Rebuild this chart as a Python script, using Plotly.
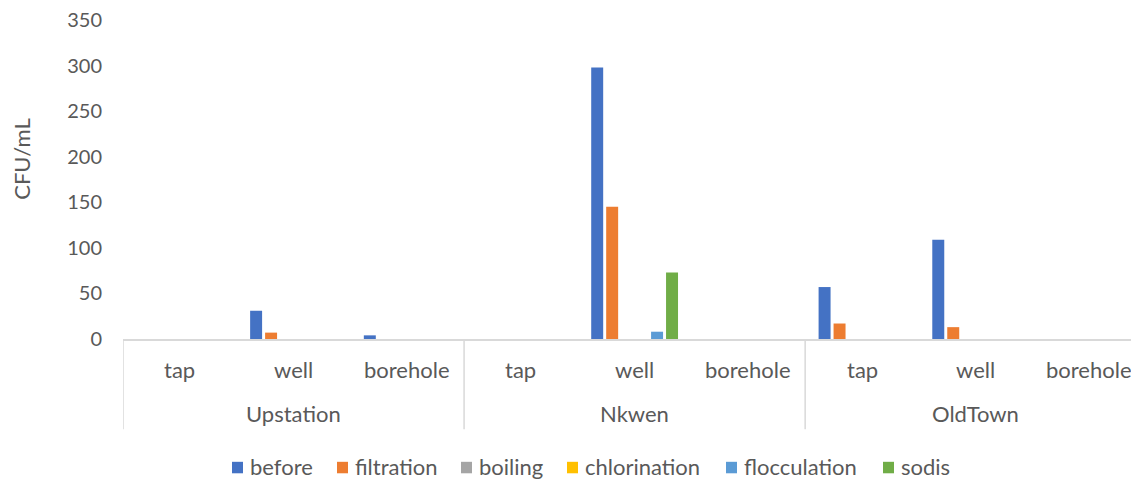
import plotly.graph_objects as go

# Sites and water sources (two-level category axis)
sites = ["Upstation", "Nkwen", "OldTown"]
sources = ["tap", "well", "borehole"]

# CFU/mL per treatment, ordered site by site: tap, well, borehole
before = [0, 31, 4, 0, 298, 0, 57, 109, 0]
filtration = [0, 7, 0, 0, 145, 0, 17, 13, 0]
boiling = [0, 0, 0, 0, 0, 0, 0, 0, 0]
chlorination = [0, 0, 0, 0, 0, 0, 0, 0, 0]
flocculation = [0, 0, 0, 0, 8, 0, 0, 0, 0]
sodis = [0, 0, 0, 0, 73, 0, 0, 0, 0]

y_ticks = [0, 50, 100, 150, 200, 250, 300, 350]

series = [
    ("before", before, "#4472C4"),
    ("filtration", filtration, "#ED7D31"),
    ("boiling", boiling, "#A5A5A5"),
    ("chlorination", chlorination, "#FFC000"),
    ("flocculation", flocculation, "#5B9BD5"),
    ("sodis", sodis, "#70AD47"),
]

positions = list(range(len(sites) * len(sources)))
sub_labels = sources * len(sites)

FONT = "Lato, 'Open Sans', sans-serif"
TEXT = "#595959"
LINE = "#D9D9D9"

W, H = 1131, 479
top, bottom, left = 20, 339.5, 123
plot_w, plot_h = W - left, bottom - top


def px(pix):
    # pixel column -> paper x
    return (pix - left) / plot_w


def py(pix):
    # pixel row -> paper y
    return (bottom - pix) / plot_h


fig = go.Figure()
for name, vals, color in series:
    fig.add_trace(go.Bar(
        x=positions, y=vals, name=name,
        marker=dict(color=color, line=dict(width=0)),
        showlegend=False,
    ))

# group dividers below the axis
for xv in [-0.5, 2.5, 5.5, 8.5]:
    fig.add_shape(type="line", xref="x", yref="paper",
                  x0=xv, x1=xv, y0=0, y1=py(430),
                  line=dict(color=LINE, width=1.5))

# water-source labels (inner category level)
for xv, lab in zip(positions, sub_labels):
    fig.add_annotation(x=xv, y=py(370), xref="x", yref="paper",
                       text=lab, showarrow=False,
                       xanchor="center", yanchor="middle",
                       font=dict(family=FONT, size=22, color=TEXT))

# site labels (outer category level)
for i, site in enumerate(sites):
    fig.add_annotation(x=i * 3 + 1, y=py(414), xref="x", yref="paper",
                       text=site, showarrow=False,
                       xanchor="center", yanchor="middle",
                       font=dict(family=FONT, size=22, color=TEXT))

# y-axis title
fig.add_annotation(x=px(22), y=py(159), xref="paper", yref="paper",
                   text="CFU/mL", textangle=-90, showarrow=False,
                   xanchor="center", yanchor="middle",
                   font=dict(family=FONT, size=22, color=TEXT))

# legend row: square key + label for each series
legend_left = [232, 337, 461, 567, 726, 883]
for (name, _, color), x0 in zip(series, legend_left):
    fig.add_shape(type="rect", xref="paper", yref="paper",
                  x0=px(x0), x1=px(x0 + 11), y0=py(462.5), y1=py(474),
                  fillcolor=color, line=dict(width=0))
    fig.add_annotation(x=px(x0 + 16), y=py(467.5), xref="paper", yref="paper",
                       text=name, showarrow=False,
                       xanchor="left", yanchor="middle",
                       font=dict(family=FONT, size=22, color=TEXT))

fig.update_layout(
    width=W, height=H,
    margin=dict(l=left, r=0, t=top, b=H - bottom, pad=0),
    barmode="group", bargap=0.21, bargroupgap=0.2,
    plot_bgcolor="white", paper_bgcolor="white",
    font=dict(family=FONT, size=22, color=TEXT),
    showlegend=False,
    xaxis=dict(
        range=[-0.5, 8.366],
        tickvals=positions, showticklabels=False,
        showgrid=False, zeroline=False,
        showline=True, linecolor=LINE, linewidth=1.5,
        ticks="",
    ),
    yaxis=dict(
        range=[0, 350], tickvals=y_ticks,
        showgrid=False, zeroline=False, showline=False,
        ticks="", ticklabelstandoff=20,
        tickfont=dict(family=FONT, size=20, color=TEXT),
    ),
)

fig.write_html("out.html")
